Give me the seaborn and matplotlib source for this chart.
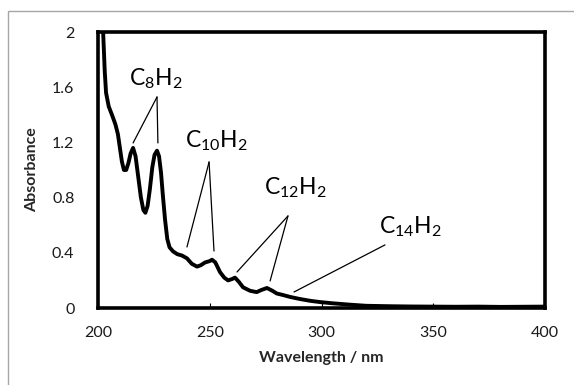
import matplotlib
matplotlib.use("Agg")
import matplotlib.pyplot as plt
import seaborn as sns
import pandas as pd
from matplotlib.patches import Rectangle

# ---- data ----
wavelength = [201.5, 202.3, 203.0, 203.6, 204.8, 206.0, 206.7, 207.8, 208.9, 209.8,
              210.7, 211.6, 212.6, 213.6, 214.6, 215.7, 216.8, 218.0, 219.2, 220.3,
              221.2, 222.2, 223.2, 224.3, 225.3, 226.4, 227.3, 228.2, 229.0, 230.0,
              231.0, 232.0, 233.6, 235.5, 237.6, 239.8, 242, 244.3, 246, 247.9,
              250, 251, 252.5, 254.6, 256.5, 258.2, 260, 261.3, 263, 264.9,
              268, 271, 273, 275.6, 278, 280, 282.8, 286, 290.4, 295,
              299.3, 305, 312.8, 320, 330, 340, 350, 360, 370, 380, 390, 400]
absorbance = [2.30, 2.00, 1.72, 1.56, 1.46, 1.41, 1.38, 1.33, 1.26, 1.16,
              1.06, 1.00, 1.00, 1.05, 1.12, 1.16, 1.10, 0.95, 0.80, 0.71,
              0.69, 0.74, 0.86, 1.02, 1.11, 1.14, 1.10, 0.98, 0.82, 0.64,
              0.50, 0.44, 0.41, 0.39, 0.38, 0.36, 0.32, 0.30, 0.31, 0.33,
              0.34, 0.35, 0.33, 0.26, 0.22, 0.20, 0.21, 0.22, 0.19, 0.15,
              0.125, 0.115, 0.13, 0.145, 0.125, 0.105, 0.094, 0.080, 0.065, 0.052,
              0.043, 0.034, 0.024, 0.016, 0.013, 0.011, 0.010, 0.009, 0.010, 0.008, 0.009, 0.010]

x_ticks = [200, 250, 300, 350, 400]
x_tick_labels = ["200", "250", "300", "350", "400"]
y_ticks = [0, 0.4, 0.8, 1.2, 1.6, 2.0]
y_tick_labels = ["0", "0.4", "0.8", "1.2", "1.6", "2"]

labels = ["C$_{8}$H$_{2}$", "C$_{10}$H$_{2}$", "C$_{12}$H$_{2}$", "C$_{14}$H$_{2}$"]
label_pos = [(225.7, 1.61), (253.0, 1.167), (288.4, 0.82), (339.6, 0.543)]
pointer_apex = [(226.4, 1.529), (249.7, 1.058), (285.0, 0.667), (328.4, 0.457)]
pointer_ends = [[(215.7, 1.196), (226.8, 1.196)],
                [(239.8, 0.442), (251.9, 0.413)],
                [(262.2, 0.261), (277.0, 0.196)],
                [(287.7, 0.116)]]

df = pd.DataFrame({"Wavelength": wavelength, "Absorbance": absorbance})

sns.set_style("white")
plt.rcParams["font.family"] = ["Lato", "DejaVu Sans"]
plt.rcParams["mathtext.fontset"] = "custom"
plt.rcParams["mathtext.rm"] = "Lato"
plt.rcParams["mathtext.it"] = "Lato"
plt.rcParams["mathtext.default"] = "regular"

fig = plt.figure(figsize=(5.74, 3.85), dpi=100)
ax = fig.add_axes([98 / 574, 77 / 385, 447 / 574, 276 / 385])

# outer light-gray frame
fig.patches.append(Rectangle((8 / 574, -0.1), 1.2, (385 - 11) / 385 + 0.1,
                             transform=fig.transFigure, fill=False,
                             edgecolor="#a6a6a6", linewidth=1.0))

sns.lineplot(data=df, x="Wavelength", y="Absorbance", ax=ax, color="black",
             linewidth=2.8, sort=False, solid_joinstyle="round",
             solid_capstyle="round")

ax.set_xlim(200, 400)
ax.set_ylim(0, 2)
ax.set_xticks(x_ticks)
ax.set_xticklabels(x_tick_labels)
ax.set_yticks(y_ticks)
ax.set_yticklabels(y_tick_labels)

for s in ax.spines.values():
    s.set_visible(True)
    s.set_linewidth(2.6)
    s.set_color("black")

ax.tick_params(axis="x", direction="in", length=3.5, width=0.8, pad=13,
               labelsize=11.5, colors="black", bottom=True)
ax.tick_params(axis="y", length=0, pad=17, labelsize=11.5, colors="black")
for t in ax.get_xticklabels() + ax.get_yticklabels():
    t.set_color("#1a1a1a")

ax.set_xlabel("Wavelength / nm", fontsize=11.5, fontweight="bold", labelpad=8)
ax.set_ylabel("Absorbance", fontsize=11.5, fontweight="bold", labelpad=9)

for lab, (tx, ty), apex, ends in zip(labels, label_pos, pointer_apex, pointer_ends):
    ax.text(tx, ty, lab, fontsize=16.5, ha="center", va="baseline", color="black")
    for e in ends:
        ax.plot([apex[0], e[0]], [apex[1], e[1]], color="black", linewidth=0.9)

fig.savefig("out.png", dpi=100)
